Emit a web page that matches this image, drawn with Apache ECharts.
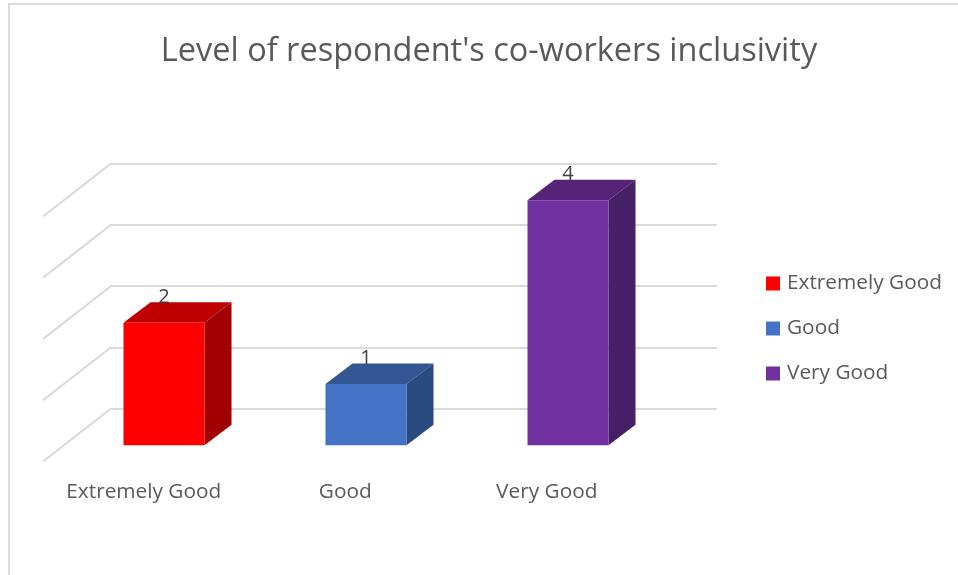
<!DOCTYPE html>
<html>
<head>
<meta charset="utf-8">
<style>html,body{margin:0;padding:0;background:#fff}#c{width:958px;height:575px}</style>
<script src="https://cdn.jsdelivr.net/npm/echarts@6/dist/echarts.min.js"></script>
</head>
<body>
<div id="c"></div>
<script>
const titleText = "Level of respondent's co-workers inclusivity";
const categories = ['Extremely Good', 'Good', 'Very Good'];
const values = [2, 1, 4];
const yTicks = [0, 1, 2, 3, 4];
const frontColors = ['#ff0000', '#4472c4', '#7030a0'];
const topColors = ['#bf0000', '#335593', '#552478'];
const sideColors = ['#a00000', '#2a4a80', '#471f66'];

// Oblique projection offsets, in pixels, from the back wall to the front of the bars
const FRONT_DX = -48, FRONT_DY = 36.8, DEPTH_DX = 27, DEPTH_DY = -20.6, BAR_W = 81;
const FLOOR_DX = -68, FLOOR_DY = 53;
const FONT = '"Open Sans", sans-serif';

function barRender(i) {
  return function (params, api) {
    const p = api.coord([api.value(0), api.value(1)]);
    const b = api.coord([api.value(0), 0]);
    const xl = p[0] + FRONT_DX - BAR_W / 2, xr = xl + BAR_W;
    const yt = p[1] + FRONT_DY, yb = b[1] + FRONT_DY;
    const poly = (pts, fill) => ({ type: 'polygon', shape: { points: pts }, style: { fill: fill } });
    return {
      type: 'group',
      children: [
        poly([[xl, yt], [xr, yt], [xr + DEPTH_DX, yt + DEPTH_DY], [xl + DEPTH_DX, yt + DEPTH_DY]], topColors[i]),
        poly([[xr, yt], [xr + DEPTH_DX, yt + DEPTH_DY], [xr + DEPTH_DX, yb + DEPTH_DY], [xr, yb]], sideColors[i]),
        poly([[xl, yt], [xr, yt], [xr, yb], [xl, yb]], frontColors[i]),
        { type: 'text', z2: 10, style: {
            text: String(api.value(1)), x: (xl + xr) / 2, y: yt - 26,
            align: 'center', verticalAlign: 'middle',
            font: '20px ' + FONT, fill: '#404040' } }
      ]
    };
  };
}

const barSeries = categories.map((name, i) => ({
  type: 'custom', name: name, xAxisIndex: 0, yAxisIndex: 0, z: 5,
  itemStyle: { color: frontColors[i] },
  encode: { x: 0, y: 1 },
  data: [[i, values[i]]],
  renderItem: barRender(i)
}));

const wallSeries = {
  type: 'custom', name: 'wall', xAxisIndex: 0, yAxisIndex: 0, z: 3, silent: true,
  encode: { x: 0, y: 1 },
  data: yTicks.map(v => [0, v]),
  renderItem: function (params, api) {
    const y = api.coord([0, api.value(1)])[1], x = params.coordSys.x;
    return { type: 'line', shape: { x1: x, y1: y, x2: x + FLOOR_DX, y2: y + FLOOR_DY },
      style: { stroke: '#d9d9d9', lineWidth: 2 } };
  }
};

const chart = echarts.init(document.getElementById('c'), null, { renderer: 'canvas' });
chart.setOption({
  animation: false,
  backgroundColor: '#ffffff',
  title: { text: titleText, left: 484, top: 30, textAlign: 'center',
    textStyle: { fontFamily: FONT, fontSize: 32.5, fontWeight: 'normal', color: '#595959' } },
  legend: {
    orient: 'vertical', left: 761, top: 268, itemWidth: 14, itemHeight: 14, itemGap: 24,
    data: categories.map(n => ({ name: n, icon: 'rect' })),
    textStyle: { fontFamily: FONT, fontSize: 20.8, color: '#595959', padding: [0, 0, 0, 2] }
  },
  graphic: [{ type: 'rect', silent: true, z: 0,
    shape: { x: 9, y: 4, width: 1000, height: 620 },
    style: { fill: 'none', stroke: '#d9d9d9', lineWidth: 2 } }],
  grid: [
    { left: 111, top: 163.5, width: 606, height: 245 },
    { left: 43, top: 216.5, width: 604.5, height: 245 }
  ],
  xAxis: [
    { type: 'category', gridIndex: 0, data: categories, axisLine: { show: false },
      axisTick: { show: false }, axisLabel: { show: false }, splitLine: { show: false } },
    { type: 'category', gridIndex: 1, data: categories, axisLine: { show: false },
      axisTick: { show: false }, splitLine: { show: false },
      axisLabel: { interval: 0, margin: 20, fontFamily: FONT, fontSize: 20.8, color: '#595959' } }
  ],
  yAxis: [
    { type: 'value', gridIndex: 0, min: 0, max: 4, interval: 1, axisLine: { show: false },
      axisTick: { show: false }, axisLabel: { show: false },
      splitLine: { show: true, lineStyle: { color: '#d9d9d9', width: 2 } } },
    { type: 'value', gridIndex: 1, min: 0, max: 4, interval: 1, show: false }
  ],
  series: [wallSeries].concat(barSeries)
});
</script>
</body>
</html>
